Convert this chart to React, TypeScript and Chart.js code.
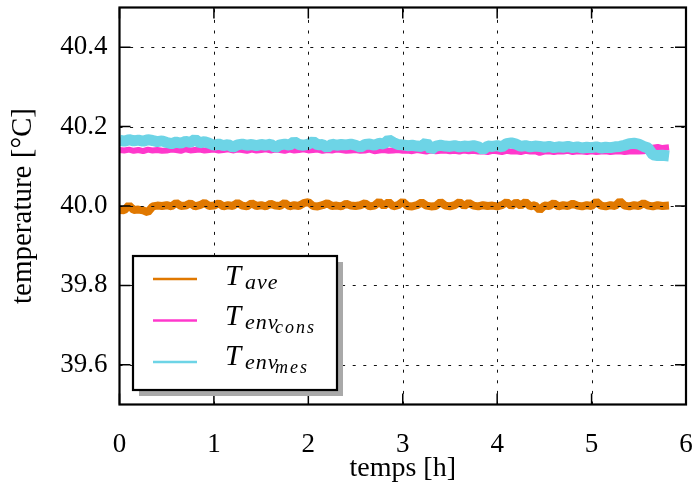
import React, { useEffect, useRef } from 'react';
import { Chart, registerables } from 'chart.js';

Chart.register(...registerables);

// time in hours
const timesH = [
  0.00, 0.05, 0.10, 0.15, 0.20, 0.25, 0.30, 0.35, 0.40, 0.45,
  0.50, 0.55, 0.60, 0.65, 0.70, 0.75, 0.80, 0.85, 0.90, 0.95,
  1.00, 1.05, 1.10, 1.15, 1.20, 1.25, 1.30, 1.35, 1.40, 1.45,
  1.50, 1.55, 1.60, 1.65, 1.70, 1.75, 1.80, 1.85, 1.90, 1.95,
  2.00, 2.05, 2.10, 2.15, 2.20, 2.25, 2.30, 2.35, 2.40, 2.45,
  2.50, 2.55, 2.60, 2.65, 2.70, 2.75, 2.80, 2.85, 2.90, 2.95,
  3.00, 3.05, 3.10, 3.15, 3.20, 3.25, 3.30, 3.35, 3.40, 3.45,
  3.50, 3.55, 3.60, 3.65, 3.70, 3.75, 3.80, 3.85, 3.90, 3.95,
  4.00, 4.05, 4.10, 4.15, 4.20, 4.25, 4.30, 4.35, 4.40, 4.45,
  4.50, 4.55, 4.60, 4.65, 4.70, 4.75, 4.80, 4.85, 4.90, 4.95,
  5.00, 5.05, 5.10, 5.15, 5.20, 5.25, 5.30, 5.35, 5.40, 5.45,
  5.50, 5.55, 5.60, 5.65, 5.70, 5.75, 5.82,
];

const tAve = [
  39.990, 39.989, 40.002, 39.990, 39.991, 39.989, 39.984, 39.999, 40.001, 40.000,
  40.002, 39.999, 40.008, 40.000, 40.001, 40.007, 39.999, 40.002, 40.008, 40.000,
  40.001, 40.007, 39.999, 40.002, 40.000, 40.008, 40.001, 39.999, 40.007, 40.000,
  40.002, 39.999, 40.006, 40.001, 40.000, 40.008, 39.999, 40.002, 40.000, 40.007,
  40.010, 40.000, 39.999, 40.002, 40.007, 40.000, 40.001, 39.999, 40.006, 40.001,
  40.000, 40.002, 40.007, 39.999, 40.001, 40.011, 40.000, 40.010, 39.999, 40.002,
  40.011, 40.000, 39.999, 40.002, 40.009, 40.001, 39.999, 40.000, 40.010, 40.001,
  39.999, 40.002, 40.010, 40.000, 40.008, 40.001, 39.999, 40.002, 40.000, 40.001,
  39.999, 40.002, 40.010, 40.000, 40.009, 40.001, 40.010, 39.999, 40.002, 39.990,
  40.001, 40.000, 40.007, 39.999, 40.002, 40.000, 40.006, 40.001, 39.999, 40.002,
  40.000, 40.011, 40.001, 39.999, 40.002, 40.000, 40.012, 40.001, 39.999, 40.002,
  40.000, 40.007, 40.001, 39.999, 40.002, 40.000, 40.001,
];

const tEnvCons = [
  40.141, 40.140, 40.142, 40.139, 40.141, 40.138, 40.142, 40.140, 40.141, 40.139,
  40.140, 40.142, 40.141, 40.139, 40.143, 40.140, 40.141, 40.142, 40.140, 40.141,
  40.142, 40.140, 40.141, 40.143, 40.140, 40.142, 40.141, 40.139, 40.142, 40.140,
  40.141, 40.143, 40.140, 40.142, 40.141, 40.139, 40.142, 40.140, 40.141, 40.143,
  40.140, 40.141, 40.142, 40.139, 40.141, 40.140, 40.142, 40.141, 40.139, 40.140,
  40.141, 40.139, 40.140, 40.142, 40.138, 40.140, 40.141, 40.139, 40.140, 40.141,
  40.139, 40.140, 40.138, 40.141, 40.139, 40.137, 40.140, 40.138, 40.139, 40.140,
  40.138, 40.139, 40.137, 40.140, 40.138, 40.139, 40.137, 40.138, 40.136, 40.139,
  40.138, 40.136, 40.139, 40.137, 40.138, 40.136, 40.139, 40.137, 40.138, 40.134,
  40.137, 40.138, 40.136, 40.138, 40.137, 40.139, 40.136, 40.138, 40.137, 40.136,
  40.138, 40.136, 40.137, 40.138, 40.136, 40.137, 40.138, 40.136, 40.137, 40.138,
  40.137, 40.138, 40.140, 40.147, 40.149, 40.146, 40.148,
];

const tEnvMes = [
  40.166, 40.163, 40.167, 40.164, 40.166, 40.163, 40.167, 40.165, 40.162, 40.164,
  40.160, 40.157, 40.161, 40.158, 40.163, 40.160, 40.168, 40.159, 40.162, 40.158,
  40.153, 40.156, 40.152, 40.155, 40.148, 40.154, 40.156, 40.153, 40.155, 40.152,
  40.155, 40.153, 40.156, 40.147, 40.154, 40.156, 40.153, 40.162, 40.155, 40.153,
  40.156, 40.162, 40.154, 40.155, 40.147, 40.156, 40.153, 40.155, 40.154, 40.156,
  40.153, 40.148, 40.155, 40.156, 40.153, 40.158, 40.156, 40.167, 40.160, 40.155,
  40.154, 40.152, 40.153, 40.151, 40.150, 40.160, 40.142, 40.151, 40.153, 40.151,
  40.150, 40.152, 40.149, 40.151, 40.150, 40.152, 40.149, 40.142, 40.151, 40.150,
  40.152, 40.149, 40.157, 40.159, 40.156, 40.150, 40.152, 40.149, 40.151, 40.150,
  40.148, 40.150, 40.147, 40.149, 40.148, 40.150, 40.147, 40.149, 40.146, 40.148,
  40.147, 40.149, 40.146, 40.148, 40.147, 40.149, 40.150, 40.153, 40.157, 40.158,
  40.156, 40.150, 40.146, 40.129, 40.127, 40.128, 40.126,
];

const xTicks = [0, 1, 2, 3, 4, 5, 6];
const yTicks = [39.6, 39.8, 40.0, 40.2, 40.4];

const seriesLabels = ['T_ave', 'T_env_cons', 'T_env_mes'];
const legendSub = ['ave', 'env', 'env'];
const legendSubSub = ['', 'cons', 'mes'];
const seriesColors = ['#e07800', '#ff38cc', '#6dd4e6'];
const seriesWidths = [8, 6, 11];
const seriesOrder = [3, 2, 1];

const FONT = '"Liberation Serif", "Times New Roman", serif';

const zeroPad = (s: any) => {
  s.paddingTop = 0;
  s.paddingBottom = 0;
  s.paddingLeft = 0;
  s.paddingRight = 0;
};

const mplPlugin = {
  id: 'mplFrame',
  afterDatasetsDraw(chart: any) {
    const { ctx, chartArea: ca, scales } = chart;
    const xs = scales.x;
    const ys = scales.y;
    ctx.save();
    // dotted grid on top of data
    ctx.strokeStyle = '#111';
    ctx.lineWidth = 1;
    ctx.setLineDash([3, 7.6]);
    xTicks.forEach((v) => {
      const px = Math.round(xs.getPixelForValue(v)) + 0.5;
      if (px <= ca.left + 2 || px >= ca.right - 2) return;
      ctx.beginPath();
      ctx.moveTo(px, ca.bottom);
      ctx.lineTo(px, ca.top);
      ctx.stroke();
    });
    yTicks.forEach((v) => {
      const py = Math.round(ys.getPixelForValue(v)) + 0.5;
      ctx.beginPath();
      ctx.moveTo(ca.left, py);
      ctx.lineTo(ca.right, py);
      ctx.stroke();
    });
    ctx.setLineDash([]);
    // inward ticks on all four sides
    ctx.strokeStyle = '#000';
    ctx.lineWidth = 1.5;
    const TL = 11;
    xTicks.forEach((v) => {
      const px = xs.getPixelForValue(v);
      ctx.beginPath();
      ctx.moveTo(px, ca.bottom);
      ctx.lineTo(px, ca.bottom - TL);
      ctx.moveTo(px, ca.top);
      ctx.lineTo(px, ca.top + TL);
      ctx.stroke();
    });
    yTicks.forEach((v) => {
      const py = ys.getPixelForValue(v);
      ctx.beginPath();
      ctx.moveTo(ca.left, py);
      ctx.lineTo(ca.left + TL, py);
      ctx.moveTo(ca.right, py);
      ctx.lineTo(ca.right - TL, py);
      ctx.stroke();
    });
    // frame
    ctx.lineWidth = 2.2;
    ctx.strokeRect(ca.left, ca.top, ca.right - ca.left, ca.bottom - ca.top);
    ctx.restore();
  },
  afterDraw(chart: any) {
    const { ctx, chartArea: ca } = chart;
    const bx = ca.left + 13.5;
    const by = ca.bottom - 148.5;
    const bw = 204;
    const bh = 134;
    ctx.save();
    ctx.fillStyle = '#a9a9a9';
    ctx.fillRect(bx + 6, by + 6, bw, bh);
    ctx.fillStyle = '#ffffff';
    ctx.fillRect(bx, by, bw, bh);
    ctx.lineWidth = 2.2;
    ctx.strokeStyle = '#000';
    ctx.strokeRect(bx, by, bw, bh);
    seriesLabels.forEach((_, i) => {
      const ly = by + 23 + i * 41.5;
      ctx.strokeStyle = seriesColors[i];
      ctx.lineWidth = 2.7;
      ctx.beginPath();
      ctx.moveTo(bx + 20, ly);
      ctx.lineTo(bx + 64, ly);
      ctx.stroke();
      const base = by + 28.7 + i * 40.3;
      ctx.fillStyle = '#000';
      ctx.textAlign = 'left';
      ctx.textBaseline = 'alphabetic';
      ctx.font = `italic 29px ${FONT}`;
      (ctx as any).letterSpacing = '0px';
      ctx.fillText('T', bx + 92, base);
      ctx.font = `italic 22px ${FONT}`;
      (ctx as any).letterSpacing = '1px';
      ctx.fillText(legendSub[i], bx + 112, base + 4);
      if (legendSubSub[i]) {
        ctx.font = `italic 18px ${FONT}`;
        (ctx as any).letterSpacing = '2px';
        ctx.fillText(legendSubSub[i], bx + 142, base + 7.5);
      }
      (ctx as any).letterSpacing = '0px';
    });
    ctx.restore();
  },
};

export default function App() {
  const ref = useRef<HTMLCanvasElement>(null);

  useEffect(() => {
    const canvas = ref.current;
    if (!canvas) return;
    const series = [tAve, tEnvCons, tEnvMes];
    const chart = new Chart(canvas, {
      type: 'line',
      data: {
        datasets: series.map((vals, i) => ({
          label: seriesLabels[i],
          data: vals.map((y, j) => ({ x: timesH[j], y })),
          borderColor: seriesColors[i],
          backgroundColor: seriesColors[i],
          borderWidth: seriesWidths[i],
          borderJoinStyle: 'bevel' as const,
          pointRadius: 0,
          tension: 0,
          fill: false,
          order: seriesOrder[i],
          clip: 0,
        })),
      },
      options: {
        animation: false,
        responsive: false,
        devicePixelRatio: 1,
        layout: { padding: { top: 7.5, right: 7, left: 0, bottom: 0 } },
        plugins: { legend: { display: false }, tooltip: { enabled: false } },
        scales: {
          x: {
            type: 'linear',
            min: 0,
            max: 6,
            afterBuildTicks: (s: any) => {
              s.ticks = xTicks.map((v) => ({ value: v }));
            },
            afterFit: (s: any) => {
              s.height = 96.5;
              zeroPad(s);
            },
            ticks: {
              autoSkip: false,
              maxRotation: 0,
              padding: 24,
              color: '#000',
              font: { family: FONT, size: 27 },
              callback: (v: any) => String(v),
            },
            grid: { display: false, drawTicks: false },
            border: { display: false },
            title: {
              display: true,
              text: 'temps [h]',
              color: '#000',
              font: { family: FONT, size: 28 },
              padding: { top: 0, bottom: 16 },
            },
          },
          y: {
            type: 'linear',
            min: 39.5,
            max: 40.5,
            afterBuildTicks: (s: any) => {
              s.ticks = yTicks.map((v) => ({ value: v }));
            },
            afterFit: (s: any) => {
              s.width = 119.5;
              zeroPad(s);
            },
            ticks: {
              padding: 12,
              color: '#000',
              font: { family: FONT, size: 27 },
              callback: (v: any) => Number(v).toFixed(1),
            },
            grid: { display: false, drawTicks: false },
            border: { display: false },
            title: {
              display: true,
              text: 'temperature [°C]',
              color: '#000',
              font: { family: FONT, size: 29 },
              padding: { top: 6, bottom: 0 },
            },
          },
        },
      },
      plugins: [mplPlugin],
    });
    return () => chart.destroy();
  }, []);

  return (
    <div style={{ position: 'absolute', left: 0, top: 0, width: 693, height: 501, background: '#fff' }}>
      <canvas ref={ref} width={693} height={501} style={{ display: 'block', width: 693, height: 501 }} />
    </div>
  );
}
